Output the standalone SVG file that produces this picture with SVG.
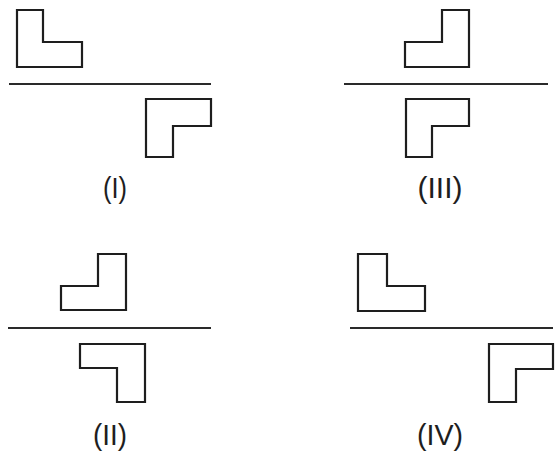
<svg xmlns="http://www.w3.org/2000/svg" width="555" height="455" viewBox="0 0 555 455">
<style>
.shape{fill:none;stroke:#1e1e1e;stroke-width:2.2;stroke-linejoin:miter}
.axis{stroke:#2a2a2a;stroke-width:2.2}
.lbl{font-family:"Liberation Sans",Arial,sans-serif;font-size:30px;fill:#1e1e1e;text-anchor:middle}
</style>
<rect width="555" height="455" fill="#ffffff"/>
<g id="panel-I">
<path class="shape" d="M17,10 H43 V42 H82 V67 H17 Z"/>
<line class="axis" x1="9" y1="84" x2="211" y2="84"/>
<path class="shape" d="M146,99 H211 V126 H173 V157 H146 Z"/>
<text class="lbl" x="115" y="198" textLength="24" lengthAdjust="spacingAndGlyphs">(I)</text>
</g>
<g id="panel-III">
<path class="shape" d="M442,10 H469 V67 H405 V42 H442 Z"/>
<line class="axis" x1="344" y1="84" x2="548" y2="84"/>
<path class="shape" d="M406,99 H469 V126 H432 V157 H406 Z"/>
<text class="lbl" x="440" y="198" textLength="45" lengthAdjust="spacingAndGlyphs">(III)</text>
</g>
<g id="panel-II">
<path class="shape" d="M98,254 H126 V310 H61 V286 H98 Z"/>
<line class="axis" x1="8" y1="328" x2="211" y2="328"/>
<path class="shape" d="M80,344 H145 V402 H117 V368 H80 Z"/>
<text class="lbl" x="110" y="445" textLength="34" lengthAdjust="spacingAndGlyphs">(II)</text>
</g>
<g id="panel-IV">
<path class="shape" d="M358,254 H387 V286 H425 V311 H358 Z"/>
<line class="axis" x1="350" y1="328" x2="553" y2="328"/>
<path class="shape" d="M489,344 H553 V369 H516 V402 H489 Z"/>
<text class="lbl" x="440" y="445" textLength="46" lengthAdjust="spacingAndGlyphs">(IV)</text>
</g>
</svg>
